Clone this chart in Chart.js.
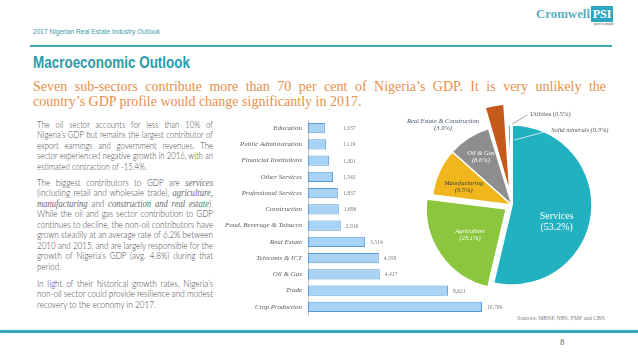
<!DOCTYPE html>
<html><head><meta charset="utf-8">
<script src="https://cdn.jsdelivr.net/npm/chart.js@4/dist/chart.umd.min.js"></script>
<style>
html,body{margin:0;padding:0;}
body{width:638px;height:359px;background:#fff;position:relative;overflow:hidden;}
.abs{position:absolute;white-space:nowrap;}
.para{position:absolute;}
.ln{white-space:nowrap;}
.ln>span{display:inline-block;white-space:nowrap;}
.body{font-family:Lato,"Open Sans",sans-serif;font-weight:300;font-size:9px;line-height:10.5px;color:#474747;}
.body i{font-family:"Liberation Serif",serif;font-style:italic;font-size:9.6px;color:#6a6a6a;font-weight:400;}
.sub{font-family:"Liberation Serif",serif;font-size:14px;line-height:15px;color:#e98f4c;}
canvas{position:absolute;}
</style></head>
<body>
<div class="abs fit" data-w="127" style="left:33px;top:27px;font:8px 'Liberation Sans',sans-serif;line-height:10px;color:#3e9aa8;">2017 Nigerian Real Estate Industry Outlook</div>
<div class="abs fit" data-w="54" style="left:536px;top:7px;font:bold 11.5px 'Liberation Serif',serif;line-height:14px;color:#5ab0c2;">Cromwell</div>
<div class="abs" style="left:591px;top:6px;width:22px;height:16px;background:#2ea6c1;color:#fff;font:bold 12px 'Liberation Serif',serif;text-align:center;line-height:16px;">PSI</div>
<div class="abs" style="left:594px;top:22px;font:3px 'Liberation Sans',sans-serif;line-height:4px;color:#555;">plant to people</div>
<div class="abs" style="left:30px;top:45px;width:582px;height:1.5px;background:#3fa9b7;"></div>

<div class="abs fit" data-w="157" style="left:33px;top:54px;font:bold 17px 'Liberation Sans',sans-serif;line-height:18px;color:#2a9bab;">Macroeconomic Outlook</div>

<div class="para sub" data-w="573" style="left:33px;top:78.5px;">
<div class="ln"><span>Seven sub-sectors contribute more than 70 per cent of Nigeria’s GDP. It is very unlikely the</span></div>
<div class="ln last"><span>country’s GDP profile would change significantly in 2017.</span></div>
</div>

<div class="para body" data-w="176" style="left:37px;top:119.75px;">
<div class="ln"><span>The oil sector accounts for less than 10% of</span></div>
<div class="ln"><span>Nigeria’s GDP but remains the largest contributor of</span></div>
<div class="ln"><span>export earnings and government revenues. The</span></div>
<div class="ln"><span>sector experienced negative growth in 2016, with an</span></div>
<div class="ln last"><span>estimated contraction of -15.4%.</span></div>
</div>
<div class="para body" data-w="176" style="left:37px;top:177.5px;">
<div class="ln"><span>The biggest contributors to GDP are <i>services</i></span></div>
<div class="ln"><span>(including retail and wholesale trade), <i>agriculture,</i></span></div>
<div class="ln"><span><i>manufacturing</i> and <i>construction and real estate</i>).</span></div>
<div class="ln"><span>While the oil and gas sector contribution to GDP</span></div>
<div class="ln"><span>continues to decline, the non-oil contributors have</span></div>
<div class="ln"><span>grown steadily at an average rate of 6.2% between</span></div>
<div class="ln"><span>2010 and 2015, and are largely responsible for the</span></div>
<div class="ln"><span>growth of Nigeria’s GDP (avg. 4.8%) during that</span></div>
<div class="ln last"><span>period.</span></div>
</div>
<div class="para body" data-w="176" style="left:37px;top:278.75px;">
<div class="ln"><span>In light of their historical growth rates, Nigeria’s</span></div>
<div class="ln"><span>non-oil sector could provide resilience and modest</span></div>
<div class="ln last"><span>recovery to the economy in 2017.</span></div>
</div>

<div class="abs fit" data-w="88" style="left:517px;top:314px;font:6px 'Liberation Serif',serif;line-height:8px;color:#7f7f7f;">Sources: MBNP, NBS, FMF and CBN</div>
<div class="abs" style="left:0;top:330px;width:638px;height:3px;background:#33a9b4;box-shadow:0 0 1.5px #a8dde2;"></div>
<div class="abs" style="left:560px;top:337px;font:9px 'Liberation Serif',serif;line-height:11px;color:#666;">8</div>

<canvas id="bar" width="290" height="205" style="left:225px;top:115px;"></canvas>
<canvas id="pie" width="234" height="230" style="left:395px;top:90px;"></canvas>

<script>
// ---- data ----
const barCategories = ["Education","Public Administration","Financial Institutions","Other Services","Professional Services","Construction","Food, Beverage & Tobacco","Real Estate","Telecoms & ICT","Oil & Gas","Trade","Crop Production"];
const barValues = [1037,1119,1301,1542,1837,1896,2016,3514,4358,4417,8621,10709];
const pieCategories = ["Services","Agriculture","Manufacturing","Oil & Gas","Real Estate & Construction","Utilities","Solid minerals"];
const pieShares = [53.2,23.1,9.5,8.6,3.9,0.5,0.3];

// ---- styles ----
const pieColors = ["#21b1c0","#8cc63f","#f1b61c","#8e8e8e","#c5591a","#4a7fc1","#a5a5a5"];
const pieOffsets = [0,28,0,0,48,0,0];
const pieLabelStyles = [
  {two:true, r:0.6, dx:-3, dy:11.5, color:"#ffffff", size:10, italic:false, align:"center"},
  {two:true, r:0.55, dx:0, dy:1, color:"#ffffff", size:6.5, italic:true, align:"center"},
  {two:true, r:0.65, dx:-1, dy:3, color:"#404040", size:6.5, italic:true, align:"center"},
  {two:true, r:0.72, dx:0, dy:0, color:"#ffffff", size:6.5, italic:true, align:"center"},
  {two:true, r:1.0, dx:-53, dy:10, color:"#44546a", size:6.5, italic:true, align:"center"},
  {two:false, r:1.0, dx:21, dy:-11, color:"#595959", size:6.5, italic:false, align:"left", line:{to:1.0, color:"#8a8a8a"}},
  {two:false, r:1.0, dx:40, dy:5, color:"#595959", size:6.5, italic:true, align:"left", line:{to:0.8, color:"#e6f6f8"}}
];

const barValueLabels = {
  id:"barValueLabels",
  afterDatasetsDraw(chart){
    const ctx = chart.ctx, meta = chart.getDatasetMeta(0), xs = chart.scales.x;
    ctx.save();
    ctx.font = '5.6px "Liberation Serif", serif';
    ctx.fillStyle = "#7a7a7a";
    ctx.textBaseline = "middle";
    ctx.textAlign = "left";
    meta.data.forEach((bar,i)=>{
      const x = Math.max(bar.x + 5, xs.left + 35);
      ctx.fillText(barValues[i].toLocaleString("en-US"), x, bar.y + 0.5);
    });
    ctx.restore();
  }
};

new Chart(document.getElementById("bar"), {
  type:"bar",
  data:{labels:barCategories, datasets:[{data:barValues, backgroundColor:"#a8d3f4", borderColor:"#5b9bd5", borderWidth:1, borderSkipped:false, barPercentage:0.62, categoryPercentage:1}]},
  options:{
    indexAxis:"y", responsive:false, animation:false, events:[],
    layout:{padding:{top:5,bottom:5,right:12,left:0}},
    plugins:{legend:{display:false}, tooltip:{enabled:false}},
    scales:{
      x:{display:false, min:0, max:12000},
      y:{afterFit(s){s.width = 83; s.paddingTop = 0; s.paddingBottom = 0;}, grid:{display:false, drawTicks:false}, border:{display:true, color:"#c8c8c8", width:1},
         ticks:{padding:6, color:"#595959", font:{family:"Liberation Serif", style:"italic", size:7}}}
    }
  },
  plugins:[barValueLabels]
});

const pieLabels = {
  id:"pieLabels",
  afterDatasetsDraw(chart){
    const ctx = chart.ctx, meta = chart.getDatasetMeta(0);
    ctx.save();
    meta.data.forEach((arc,i)=>{
      const st = pieLabelStyles[i]; if(!st) return;
      const mid = (arc.startAngle + arc.endAngle)/2;
      const off = (pieOffsets[i]||0)/4;
      const cx = arc.x + Math.cos(mid)*off, cy = arc.y + Math.sin(mid)*off;
      const R = arc.outerRadius;
      const lx = cx + Math.cos(mid)*R*st.r + st.dx;
      const ly = cy + Math.sin(mid)*R*st.r + st.dy;
      const pct = "(" + pieShares[i].toFixed(1) + "%)";
      ctx.font = (st.italic?"italic ":"") + st.size + 'px "Liberation Serif", serif';
      ctx.fillStyle = st.color;
      ctx.textAlign = st.align;
      ctx.textBaseline = "middle";
      if(st.two){
        const h = st.size*1.05;
        ctx.fillText(pieCategories[i], lx, ly - h/2);
        ctx.fillText(pct, lx, ly + h/2);
      } else {
        ctx.fillText(pieCategories[i] + " " + pct, lx, ly);
      }
      if(st.line){
        const ex = cx + Math.cos(mid)*R*st.line.to, ey = cy + Math.sin(mid)*R*st.line.to;
        ctx.strokeStyle = st.line.color; ctx.lineWidth = 0.8;
        ctx.beginPath(); ctx.moveTo(lx - 3, ly + 1); ctx.lineTo(ex + 3, ey - 1); ctx.stroke();
      }
    });
    ctx.restore();
  }
};

new Chart(document.getElementById("pie"), {
  type:"pie",
  data:{labels:pieCategories, datasets:[{data:pieShares, backgroundColor:pieColors, borderColor:"#ffffff", borderWidth:1.5, offset:pieOffsets, hoverOffset:0}]},
  options:{
    responsive:false, animation:false, events:[], radius:80,
    layout:{padding:0},
    plugins:{legend:{display:false}, tooltip:{enabled:false}}
  },
  plugins:[pieLabels]
});

// ---- text fitting ----
function fitAll(){
  document.querySelectorAll(".fit").forEach(el=>{
    const t = +el.dataset.w, w = el.getBoundingClientRect().width;
    el.style.transformOrigin = "0 50%";
    el.style.transform = "scaleX(" + (t/w) + ")";
  });
  document.querySelectorAll(".para").forEach(p=>{
    const target = +p.dataset.w;
    const spans = [...p.querySelectorAll(".ln > span")];
    const widths = spans.map(s=>s.getBoundingClientRect().width);
    let S = 1;
    spans.forEach((s,i)=>{ if(!s.parentElement.classList.contains("last")) S = Math.min(S, target/widths[i]); });
    spans.forEach((s,i)=>{
      s.style.transformOrigin = "0 50%";
      s.style.transform = "scaleX(" + S + ")";
      if(!s.parentElement.classList.contains("last")){
        const n = (s.textContent.match(/ /g)||[]).length;
        if(n) s.style.wordSpacing = ((target/S - widths[i])/n) + "px";
      }
    });
  });
}
if(document.fonts && document.fonts.ready){ document.fonts.ready.then(fitAll); } else { fitAll(); }
</script>
</body></html>
